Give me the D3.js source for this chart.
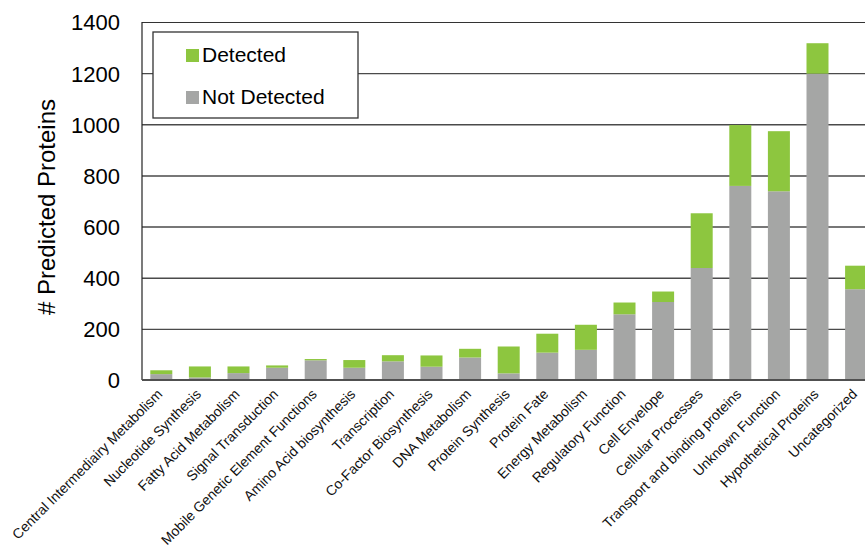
<!DOCTYPE html>
<html>
<head>
<meta charset="utf-8">
<script src="https://cdn.jsdelivr.net/npm/d3@7"></script>
<style>
  body { margin: 0; background: white; }
  text { font-family: "Liberation Sans", Arial, sans-serif; }
</style>
</head>
<body>
<svg id="chart" width="865" height="550"></svg>
<script>
// categories in plotted order
const categories = [
    "Central Intermediairy Metabolism", "Nucleotide Synthesis", "Fatty Acid Metabolism",
    "Signal Transduction", "Mobile Genetic Element Functions", "Amino Acid biosynthesis",
    "Transcription", "Co-Factor Biosynthesis", "DNA Metabolism", "Protein Synthesis",
    "Protein Fate", "Energy Metabolism", "Regulatory Function", "Cell Envelope",
    "Cellular Processes", "Transport and binding proteins", "Unknown Function",
    "Hypothetical Proteins", "Uncategorized"
];
const notDetected = [23, 10, 27, 48, 77, 48, 73, 52, 88, 26, 107, 118, 257, 305, 438, 759, 738, 1198, 355];
const detected    = [15, 43, 26,  9,  5, 30, 24, 44, 34, 105, 74, 98, 46, 41, 214, 238, 235, 119, 92];
const yTicks = [0, 200, 400, 600, 800, 1000, 1200, 1400];
const seriesNames = ["Detected", "Not Detected"];

const svg = d3.select("#chart");
const green = "#8dc63f", gray = "#a5a6a5";

const dims = { left: 142, top: 22, bottom: 380, step: 38.6 };

const x = d3.scaleBand()
    .domain(categories)
    .range([dims.left, dims.left + dims.step * categories.length])
    .paddingInner(0.43)
    .paddingOuter(0.215);
const y = d3.scaleLinear()
    .domain([0, 1400])
    .range([dims.bottom, dims.top]);

// gridlines + tick labels
const yAxis = d3.axisLeft(y)
    .tickValues(yTicks)
    .tickSize(-(900 - dims.left))
    .tickPadding(22)
    .tickFormat(d3.format("d"));
const yAxisGroup = svg.append("g")
    .attr("transform", `translate(${dims.left},0)`)
    .call(yAxis);
yAxisGroup.select(".domain").remove();
yAxisGroup.selectAll("line")
    .attr("stroke", d => d == 1400 ? "#333" : "#4a4a4a")
    .attr("stroke-width", d => d == 1400 ? 1 : 1.4)
    .attr("opacity", d => d == 0 ? 0 : 1);
yAxisGroup.selectAll("text")
    .attr("font-size", "22px")
    .attr("fill", "#000")
    .attr("dy", "0.36em");

// left axis line
svg.append("line")
    .attr("x1", dims.left).attr("x2", dims.left)
    .attr("y1", dims.top).attr("y2", dims.bottom)
    .attr("stroke", "#222").attr("stroke-width", 1.2);

// stacked bars
const stackData = categories.map((c, i) => ({ cat: c, nd: notDetected[i], d: detected[i] }));
const stacked = d3.stack().keys(["nd", "d"])(stackData);
svg.append("g")
    .selectAll("g")
    .data(stacked)
    .enter()
    .append("g")
    .attr("fill", s => s.key == "d" ? green : gray)
    .selectAll("rect")
    .data(s => s)
    .enter()
    .append("rect")
    .attr("x", d => x(d.data.cat))
    .attr("width", x.bandwidth())
    .attr("y", d => y(d[1]))
    .attr("height", d => y(d[0]) - y(d[1]));

// baseline
svg.append("line")
    .attr("x1", dims.left).attr("x2", 865)
    .attr("y1", dims.bottom).attr("y2", dims.bottom)
    .attr("stroke", "#505050").attr("stroke-width", 2);

// category labels
svg.append("g")
    .selectAll("text")
    .data(categories)
    .enter()
    .append("text")
    .attr("text-anchor", "end")
    .attr("transform", d => `translate(${x(d) + x.bandwidth() / 2 + 2},${dims.bottom + 15}) rotate(-45)`)
    .attr("font-size", "14px")
    .attr("fill", "#111")
    .text(d => d);

// y title
svg.append("text")
    .attr("text-anchor", "middle")
    .attr("transform", "translate(55,207) rotate(-90)")
    .attr("font-size", "24px")
    .attr("fill", "#000")
    .text("# Predicted Proteins");

// legend
const legend = svg.append("g");
legend.append("rect")
    .attr("x", 153).attr("y", 32)
    .attr("width", 205).attr("height", 86)
    .attr("fill", "white")
    .attr("stroke", "#333").attr("stroke-width", 1.3);
seriesNames.forEach((name, i) => {
    legend.append("rect")
        .attr("x", 186).attr("y", 49 + i * 42)
        .attr("width", 13).attr("height", 13)
        .attr("fill", i == 0 ? green : gray);
    legend.append("text")
        .attr("x", 202).attr("y", 62 + i * 42)
        .attr("font-size", "21px")
        .attr("fill", "#000")
        .text(name);
});
</script>
</body>
</html>
